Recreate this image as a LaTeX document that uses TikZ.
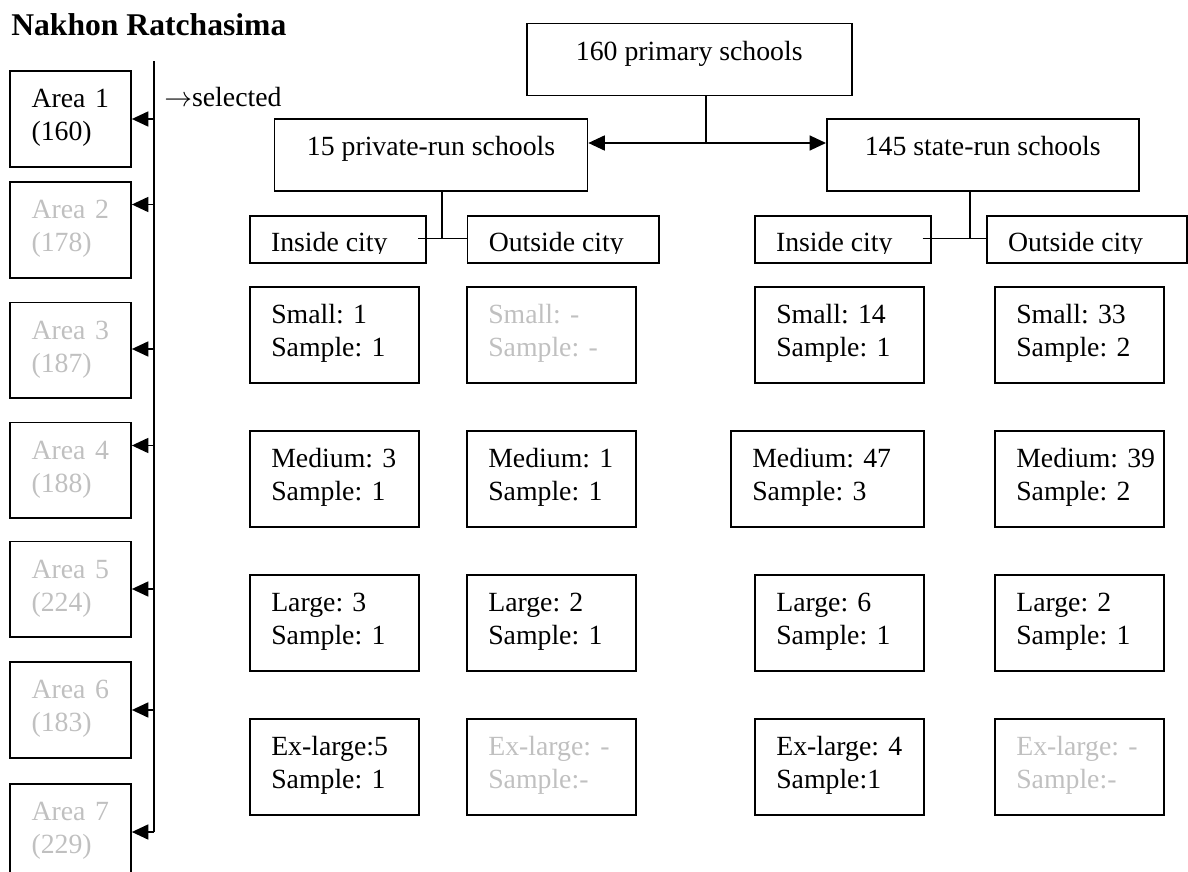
\documentclass[tikz,border=0pt]{standalone}
\usepackage{fix-cm}
\usepackage{fontspec}
\setmainfont{Liberation Serif}
\usetikzlibrary{arrows.meta,calc}
\definecolor{faded}{RGB}{192,192,192}
\newcommand{\bodyfont}{\fontsize{15.8pt}{18.8pt}\selectfont}
\newcommand{\titlefont}{\fontsize{18pt}{21pt}\selectfont\bfseries}
\exhyphenpenalty=10000

\begin{document}
\begin{tikzpicture}[x=0.02cm,y=-0.02cm,font=\bodyfont,
  boxed/.style={draw,line width=0.9pt,inner sep=0pt,anchor=north west},
  topbox/.style={boxed,minimum width=#1,text height=0.74cm,text depth=0.7cm},
  cellbox/.style={boxed,inner xsep=0.43cm,text width=#1,align=left,text height=0.74cm,text depth=1.18cm},
  cellbox/.default=2.52cm,
  areabox/.style={boxed,inner xsep=0.43cm,text width=1.56cm,align=left,text height=0.74cm,text depth=1.18cm},
  citybox/.style={boxed,minimum width=#1,minimum height=0.94cm},
  wire/.style={line width=1pt},
  arrowed/.style={-{Triangle[length=0.33cm,width=0.3cm]}}]

\useasboundingbox (0,0) rectangle (1188,872);

\node[anchor=base west,inner sep=0pt,font=\titlefont] (title) at (11,35) {Nakhon Ratchasima};
\node[anchor=base west,inner sep=0pt] (selected) at (164,106.7) {$\rightarrow$selected};

% areas
\coordinate (bustop) at (154,61);
\foreach \i/\y/\a/\c/\n in {1/70/119/black/160,2/181/204.5/faded/178,3/301.5/349/faded/187,
  4/421.5/445.5/faded/188,5/540.5/589/faded/224,6/661/710/faded/183,7/783/832/faded/229}
{
  \node[areabox,text=\c] (area\i) at (9.3,\y) {Area\hspace{0.35em}\i\\(\n)};
  \coordinate (bus\i) at (154,\a);
  \draw[wire,arrowed] (bus\i) -- (bus\i -| area\i.east);
}
\draw[wire] (bustop) -- (bus7);

% schools
\node[topbox=6.5cm] (all) at (526,22.7) {160 primary schools};
\node[topbox=6.26cm] (private) at (273.8,118) {15 private-run schools};
\node[topbox=6.24cm] (state) at (826,118) {145 state-run schools};

\coordinate (split) at (706,143);
\draw[wire] (split |- all.south) -- (split);
\draw[wire,{Triangle[length=0.33cm,width=0.3cm]}-{Triangle[length=0.33cm,width=0.3cm]}]
  (private.east |- split) -- (state.west |- split);

\node[citybox=3.53cm] (pin) at (249,215) {};
\node[citybox=3.83cm] (pout) at (466.7,215) {};
\node[citybox=3.53cm] (sin) at (754,215) {};
\node[citybox=4cm] (sout) at (986,215) {};

\begin{scope}
\clip (240,200) rectangle (1188,253.5);
\foreach \b/\t in {pin/Inside city,pout/Outside city,sin/Inside city,sout/Outside city}
  \node[anchor=base west,inner sep=0pt] (\b text) at ($(\b.north west)+(21.7,36.7)$) {\t};
\end{scope}

\coordinate (pj) at (441.7,238.5);
\coordinate (pjl) at (418,238.5);
\draw[wire] (pj |- private.south) -- (pj);
\draw[wire] (pjl) -- (pout.west |- pj);

\coordinate (sj) at (970,238.5);
\coordinate (sjl) at (922.7,238.5);
\draw[wire] (sj |- state.south) -- (sj);
\draw[wire] (sjl) -- (sout.west |- sj);

% sizes
\foreach \n/\x/\y/\c/\t in {
  c11/249/286/black/{Small:~1\\Sample:~1},
  c12/466/286/faded/{Small:~-\\Sample:~-},
  c13/754/286/black/{Small:~14\\Sample:~1},
  c14/994/286/black/{Small:~33\\Sample:~2},
  c21/249/430/black/{Medium:~3\\Sample:~1},
  c22/466/430/black/{Medium:~1\\Sample:~1},
  c24/994/430/black/{Medium:~39\\Sample:~2},
  c31/249/574/black/{Large:~3\\Sample:~1},
  c32/466/574/black/{Large:~2\\Sample:~1},
  c33/754/574/black/{Large:~6\\Sample:~1},
  c34/994/574/black/{Large:~2\\Sample:~1},
  c41/249/718/black/{Ex-large:5\\Sample:~1},
  c42/466/718/faded/{Ex-large:~-\\Sample:-},
  c43/754/718/black/{Ex-large:~4\\Sample:1},
  c44/994/718/faded/{Ex-large:~-\\Sample:-}}
  \node[cellbox,text=\c] (\n) at (\x,\y) {\t};
\node[cellbox=3.0cm] (c23) at (730,430) {Medium:~47\\Sample:~3};

\end{tikzpicture}
\end{document}
